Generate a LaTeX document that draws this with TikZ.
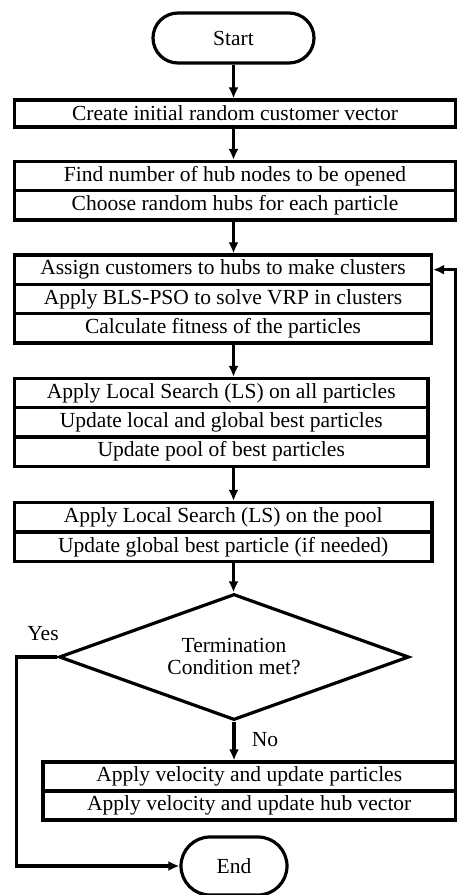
\documentclass[tikz,border=0pt]{standalone}
\usepackage{fontspec}
\setmainfont{Liberation Serif}
\usetikzlibrary{arrows.meta,shapes.geometric,shapes.misc}
\begin{document}
\begin{tikzpicture}[x=1pt,y=-1pt,
  lw/.style={line width=3.2pt},
  txt/.style={font=\fontsize{21.5}{25}\selectfont},
  row/.style={draw,lw,rectangle,inner sep=0pt,txt},
  term/.style={draw,lw,rounded rectangle,inner sep=0pt,txt},
  arr/.style={lw,-{Latex[length=11pt,width=10pt]}},
  plain/.style={lw}]
\useasboundingbox (0,0) rectangle (457,895);
% start
\node[term,minimum width=161pt,minimum height=50pt] (start) at (233.5,38) {Start};
% box 1
\node[row,minimum width=441pt,minimum height=27pt] (b1) at (235,113.5) {Create initial random customer vector};
% box 2
\node[row,minimum width=441pt,minimum height=29pt] (b2a) at (235,176) {Find number of hub nodes to be opened};
\node[row,minimum width=441pt,minimum height=29.5pt] (b2b) at (235,205.25) {Choose random hubs for each particle};
% box 3
\node[row,minimum width=417pt,minimum height=29.33pt] (b3a) at (223,269.67) {Assign customers to hubs to make clusters};
\node[row,minimum width=417pt,minimum height=29.33pt] (b3b) at (223,299) {Apply BLS-PSO to solve VRP in clusters};
\node[row,minimum width=417pt,minimum height=29.33pt] (b3c) at (223,328.33) {Calculate fitness of the particles};
% box 4
\node[row,minimum width=413.5pt,minimum height=29.2pt] (b4a) at (221.25,393.1) {Apply Local Search (LS) on all particles};
\node[row,minimum width=413.5pt,minimum height=29.2pt] (b4b) at (221.25,422.3) {Update local and global best particles};
\node[row,minimum width=413.5pt,minimum height=29.2pt] (b4c) at (221.25,451.5) {Update pool of best particles};
% box 5
\node[row,minimum width=417.5pt,minimum height=29.5pt] (b5a) at (223.25,517.25) {Apply Local Search (LS) on\ the pool};
\node[row,minimum width=417.5pt,minimum height=29.5pt] (b5b) at (223.25,546.75) {Update global best particle (if needed)};
% decision
\node[draw,lw,diamond,aspect=2.78,minimum width=350pt,minimum height=126pt,inner sep=0pt,txt,align=center] (dec) at (234,657) {Termination\\[-3pt]Condition met?};
% box 6
\node[row,minimum width=412.5pt,minimum height=29pt] (b6a) at (249.25,776.5) {Apply velocity and update particles};
\node[row,minimum width=412.5pt,minimum height=29pt] (b6b) at (249.25,805.5) {Apply velocity and update hub vector};
% end
\node[term,minimum width=106pt,minimum height=58pt] (endn) at (234,866) {End};
% labels
\node[txt,inner sep=0pt] (yes) at (43,634) {Yes};
\node[txt,inner sep=0pt] (no) at (265,740) {No};
% arrows
\draw[arr] (start.south) -- (start.south |- b1.north);
\draw[arr] (b1.south -| start) -- (start |- b2a.north);
\draw[arr] (b2b.south -| start) -- (start |- b3a.north);
\draw[arr] (b3c.south -| start) -- (start |- b4a.north);
\draw[arr] (b4c.south -| start) -- (start |- b5a.north);
\draw[arr] (b5b.south -| start) -- (start |- dec.north);
\draw[arr] (dec.south) -- (dec.south |- b6a.north);
\coordinate (yc) at (16.7,657);
\draw[arr] (dec.west) -- (yc) |- (endn.west);
\coordinate (lp) at (455.5,762);
\draw[arr] (lp) -- (lp |- b3a.east) -- (b3a.east);
\end{tikzpicture}
\end{document}
